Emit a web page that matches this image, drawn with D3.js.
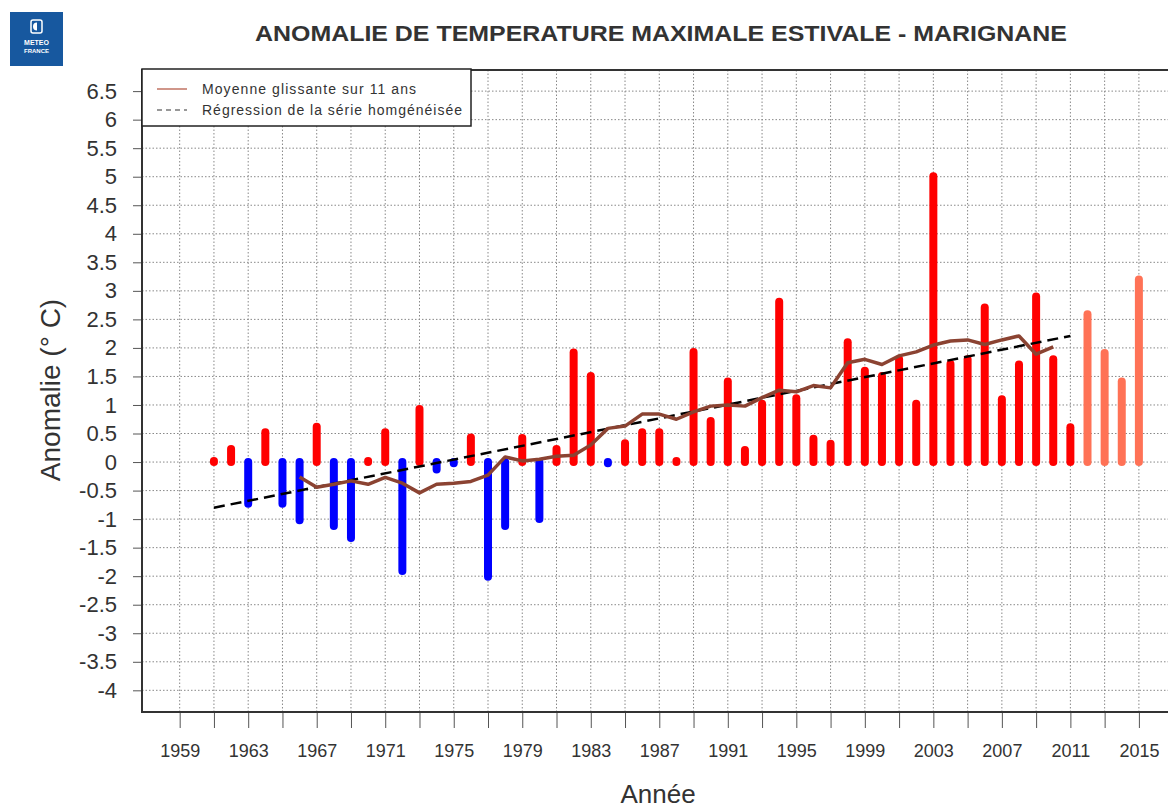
<!DOCTYPE html>
<meta charset="utf-8">
<style>

body { margin: 0; background: #fff; }

text { font-family: "Liberation Sans", Arial, sans-serif; fill: #333; }

.grid line {
  stroke: #888;
  stroke-width: 1px;
  stroke-dasharray: 1.5,2;
}

.frame {
  fill: none;
  stroke: #333;
  stroke-width: 2px;
}

.tick line { stroke: #555; }

.mavg {
  fill: none;
  stroke: #8b4332;
  stroke-width: 3.5px;
  stroke-linejoin: round;
}

.reg {
  fill: none;
  stroke: #000;
  stroke-width: 2.5px;
  stroke-dasharray: 11,6;
}

</style>
<svg width="1168" height="810"></svg>
<script src="https://cdn.jsdelivr.net/npm/d3@7"></script>
<script>

// anomalies (°C), summer max temperature, Marignane
var years = d3.range(1961, 2016);
var anomalies = [
   0.02,  0.23, -0.73,  0.52, -0.73, -1.02,  0.62, -1.12, -1.33,  0.02,   // 1961-1970
   0.52, -1.91,  0.93, -0.13, -0.02,  0.43, -2.01, -1.12,  0.42, -1.00,   // 1971-1980
   0.23,  1.92,  1.51, -0.02,  0.33,  0.52,  0.52,  0.02,  1.93,  0.72,   // 1981-1990
   1.41,  0.21,  1.02,  2.81,  1.12,  0.41,  0.32,  2.10,  1.60,  1.51,   // 1991-2000
   1.80,  1.02,  5.01,  1.72,  1.80,  2.71,  1.10,  1.71,  2.90,  1.80,   // 2001-2010
   0.61,  2.59,  1.91,  1.41,  3.20                                       // 2011-2015
];
var provisionalFrom = 2012;

// 11-year moving average
var mavgYears = d3.range(1966, 2011);
var mavgValues = [
  -0.26, -0.44, -0.39, -0.33, -0.39, -0.27, -0.37, -0.54, -0.39, -0.37,
  -0.34, -0.23,  0.09,  0.02,  0.05,  0.10,  0.12,  0.30,  0.59,  0.63,
   0.84,  0.84,  0.75,  0.88,  0.98,  1.00,  0.98,  1.13,  1.26,  1.23,
   1.34,  1.30,  1.74,  1.80,  1.71,  1.86,  1.93,  2.05,  2.12,  2.14,
   2.06,  2.14,  2.21,  1.89,  2.02
];

// regression of the homogenised series
var regYears = [1961, 2011];
var regValues = [-0.80, 2.21];

var yTicks = d3.range(-4, 6.51, 0.5);
var xTicks = d3.range(1959, 2018, 2);
var xLabels = d3.range(1959, 2016, 4);

var title = "ANOMALIE DE TEMPERATURE MAXIMALE ESTIVALE - MARIGNANE";
var legendLabels = ["Moyenne glissante sur 11 ans", "Régression de la série homgénéisée"];

var svg = d3.select("svg");

var plotLeft = 142, plotRight = 1180, plotTop = 70, plotBottom = 712;

var x = d3.scaleLinear().domain([1956.8, 2017.4]).range([plotLeft, plotRight]);
var y = d3.scaleLinear().domain([-4.38, 6.87]).range([plotBottom, plotTop]);

// logo
var logo = svg.append("g").attr("transform", "translate(10,12)");
logo.append("rect").attr("width", 53).attr("height", 54).attr("fill", "#17589f");
logo.append("rect").attr("x", 21).attr("y", 8).attr("width", 11).attr("height", 13).attr("rx", 2)
    .attr("fill", "none").attr("stroke", "#fff").attr("stroke-width", 1.5);
logo.append("path").attr("d", "M27,10.5 a4,4 0 1,0 0,8 z").attr("fill", "#fff");
logo.append("text").attr("x", 26.5).attr("y", 33).attr("text-anchor", "middle")
    .style("font-size", "7px").style("font-weight", "bold").style("fill", "#fff").text("METEO");
logo.append("text").attr("x", 26.5).attr("y", 41).attr("text-anchor", "middle")
    .style("font-size", "6px").style("font-weight", "bold").style("fill", "#fff").text("FRANCE");

// title
svg.append("text")
    .attr("x", 661).attr("y", 41)
    .attr("text-anchor", "middle")
    .attr("textLength", 812)
    .attr("lengthAdjust", "spacingAndGlyphs")
    .style("font-size", "22px").style("font-weight", "bold")
    .text(title);

// grid
var grid = svg.append("g").attr("class", "grid");
grid.selectAll(".h").data(yTicks).enter().append("line")
    .attr("x1", plotLeft).attr("x2", plotRight)
    .attr("y1", function(d) { return y(d); }).attr("y2", function(d) { return y(d); });
grid.selectAll(".v").data(xTicks).enter().append("line")
    .attr("x1", function(d) { return x(d); }).attr("x2", function(d) { return x(d); })
    .attr("y1", plotTop).attr("y2", plotBottom);

// y axis
var yAxis = svg.append("g")
    .attr("transform", "translate(" + plotLeft + ",0)")
    .call(d3.axisLeft(y).tickValues(yTicks).tickSize(9).tickPadding(16)
      .tickFormat(function(d) { return String(Math.round(d * 10) / 10); }));
yAxis.select(".domain").remove();
yAxis.selectAll("text").style("font-size", "22px").attr("fill", "#333");

// x axis
var xAxis = svg.append("g")
    .attr("transform", "translate(0," + plotBottom + ")")
    .call(d3.axisBottom(x).tickValues(xTicks).tickSize(16).tickPadding(16)
      .tickFormat(function(d) { return xLabels.indexOf(d) >= 0 ? d : ""; }));
xAxis.select(".domain").remove();
xAxis.selectAll("text").style("font-size", "18px").attr("fill", "#333");

// axis titles
svg.append("text")
    .attr("x", 658).attr("y", 803)
    .attr("text-anchor", "middle")
    .style("font-size", "26px")
    .text("Année");

svg.append("text")
    .attr("transform", "translate(60,390) rotate(-90)")
    .attr("text-anchor", "middle")
    .style("font-size", "28px")
    .text("Anomalie (° C)");

// bars
svg.append("g").selectAll("line")
    .data(years)
  .enter().append("line")
    .attr("x1", function(d) { return x(d); })
    .attr("x2", function(d) { return x(d); })
    .attr("y1", y(0))
    .attr("y2", function(d, i) { return y(anomalies[i]); })
    .attr("stroke-width", 8)
    .attr("stroke-linecap", "round")
    .attr("stroke", function(d, i) {
      if (anomalies[i] < 0) return "#0000ff";
      return d >= provisionalFrom ? "#ff7256" : "#ff0000";
    });

// regression
var line = d3.line()
    .x(function(d) { return x(d[0]); })
    .y(function(d) { return y(d[1]); });

svg.append("path")
    .datum(d3.zip(regYears, regValues))
    .attr("class", "reg")
    .attr("d", line);

// moving average
svg.append("path")
    .datum(d3.zip(mavgYears, mavgValues))
    .attr("class", "mavg")
    .attr("d", line);

// frame
svg.append("path")
    .attr("class", "frame")
    .attr("d", "M" + plotRight + "," + plotTop + "H" + plotLeft + "V" + plotBottom + "H" + plotRight);

// legend
var legend = svg.append("g");
legend.append("rect")
    .attr("x", plotLeft).attr("y", plotTop - 1)
    .attr("width", 329).attr("height", 57)
    .attr("fill", "#fff").attr("stroke", "#222").attr("stroke-width", 1.5);
legend.append("line")
    .attr("x1", 157).attr("x2", 187).attr("y1", 89).attr("y2", 89)
    .attr("stroke", "#b0503c").attr("stroke-width", 1.2);
legend.append("line")
    .attr("x1", 157).attr("x2", 187).attr("y1", 110).attr("y2", 110)
    .attr("stroke", "#333").attr("stroke-width", 1.2).attr("stroke-dasharray", "5,4");
legend.selectAll(".lbl").data(legendLabels).enter().append("text")
    .attr("x", 202)
    .attr("y", 94).attr("dy", function(d, i) { return i * 21; })
    .attr("textLength", function(d, i) { return i ? 260 : 214; })
    .style("font-size", "14px")
    .text(function(d) { return d; });

</script>
